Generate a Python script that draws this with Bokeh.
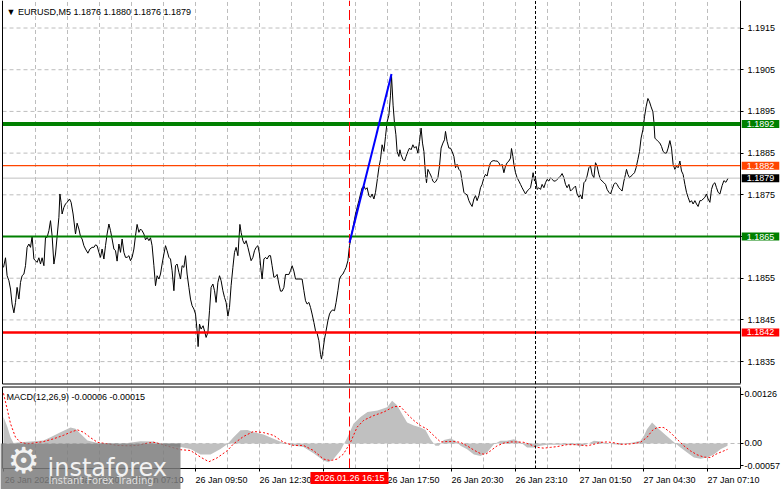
from bokeh.plotting import figure
from bokeh.layouts import column
from bokeh.models import FixedTicker, Label, Range1d, BoxAnnotation, PrintfTickFormatter
from bokeh.embed import file_html
from bokeh.resources import INLINE

# ---------------- data ----------------
# price line: position on the bar axis (5-minute bars, bar 0 = 26 Jan 01:50) and close
bar_pos = [0.0, 1.0, 1.8, 2.7, 3.5, 4.3, 5.2, 6.0, 6.8, 7.7, 8.5, 9.3, 10.2, 11.0, 11.8, 12.7, 13.5, 14.3, 15.2, 16.0,
           16.8, 17.7, 18.5, 19.3, 20.2, 21.0, 21.8, 22.7, 23.5, 24.3, 25.2, 26.0, 26.8, 27.7, 28.2, 28.8, 29.3, 30.2, 31.0, 31.8,
           33.0, 33.8, 34.8, 36.0, 36.8, 37.7, 38.5, 39.3, 40.2, 41.0, 42.2, 43.2, 44.3, 45.2, 46.0, 46.8, 47.7, 48.5, 49.3, 50.2,
           51.0, 51.8, 52.7, 53.5, 54.3, 55.2, 56.0, 56.8, 57.7, 58.5, 59.3, 60.2, 61.0, 61.8, 62.7, 63.5, 64.3, 65.2, 66.0, 66.8,
           67.7, 68.5, 69.3, 70.2, 71.0, 71.8, 72.7, 73.5, 74.3, 75.2, 76.0, 76.8, 77.7, 78.5, 79.3, 80.2, 81.0, 81.8, 82.7, 83.5,
           84.3, 85.2, 86.0, 86.8, 87.7, 88.5, 89.3, 90.2, 91.0, 91.8, 92.7, 93.5, 94.3, 95.2, 96.0, 96.8, 97.3, 98.0, 98.8, 99.8,
           100.7, 101.3, 102.2, 103.0, 103.8, 104.7, 105.5, 106.3, 107.2, 108.0, 108.8, 109.7, 110.5, 111.3, 112.2, 113.0, 113.8, 114.7, 115.5, 116.3,
           117.2, 118.2, 118.8, 119.7, 120.5, 121.3, 122.2, 123.0, 123.8, 124.7, 125.5, 126.3, 127.2, 128.0, 128.8, 129.3, 130.2, 131.0, 131.8, 132.7,
           133.5, 134.3, 135.2, 136.0, 136.8, 137.7, 138.5, 139.3, 140.2, 141.0, 141.8, 142.7, 143.5, 144.3, 145.2, 146.0, 147.7, 149.3, 150.2, 151.0,
           151.8, 152.7, 153.5, 154.3, 155.2, 156.0, 156.8, 157.7, 158.5, 159.0, 159.7, 160.5, 161.3, 162.2, 163.0, 163.8, 164.7, 165.5, 166.3, 167.2,
           168.0, 168.8, 169.7, 170.5, 171.3, 172.2, 173.0,
           176.0, 177.7, 179.3, 180.2, 181.0, 181.8, 182.7, 183.5, 184.3, 185.2, 186.0, 186.8, 187.7, 188.5, 189.3, 190.2, 191.0, 191.8, 192.7, 193.5,
           194.0, 194.8, 195.5, 196.2, 196.8, 197.7, 198.2, 198.8, 199.7, 200.5, 201.3, 202.2, 203.0, 203.8, 204.7, 205.5, 206.3, 207.2, 208.0, 208.8,
           209.5, 210.2, 211.0, 211.5, 212.2, 213.0, 213.8, 214.7, 215.5, 216.3, 217.2, 218.0, 218.8, 219.7, 220.5, 221.0, 221.8, 222.7, 223.5, 224.3,
           225.2, 226.0, 226.8, 227.7, 228.5, 229.3, 230.2, 231.0, 231.8, 232.7, 233.5, 234.3, 235.2, 236.0, 236.8, 237.7, 238.5, 239.3, 240.2, 241.0,
           241.8, 242.7, 243.5, 244.3, 245.2, 246.0, 246.8, 247.7, 248.5, 249.3, 250.2, 251.0, 251.8, 252.7, 253.5, 254.0, 254.7, 255.2, 256.0, 256.8,
           257.7, 258.5, 259.3, 260.2, 261.0, 261.8, 262.7, 263.5, 264.3, 264.8, 265.5, 266.0, 266.8, 267.7, 268.5, 269.3, 270.2, 271.0, 271.8, 272.7,
           273.5, 274.3, 275.2, 276.0, 276.8, 277.7, 278.5, 279.3, 280.2, 281.0, 281.8, 282.7, 283.5, 284.3, 285.2, 286.0, 286.8, 287.7, 288.5, 289.3,
           290.2, 291.0, 291.8, 292.7, 293.5, 294.3, 295.2, 296.0, 296.8, 297.7, 298.5, 299.3, 300.2, 301.0, 301.8, 302.7, 303.5, 304.3, 305.2, 306.0,
           306.8, 307.7, 308.5, 309.3, 310.2, 311.0, 311.5, 312.2, 313.0, 313.8, 314.7, 315.5, 316.3, 317.2, 318.0, 318.8, 319.7, 320.5, 321.3, 322.2,
           323.0, 323.8, 324.7, 325.2, 325.7, 326.5, 327.3, 328.2, 329.0, 329.8, 330.7, 331.5, 332.3, 333.2, 334.0, 334.8, 335.7, 336.5, 337.3, 338.2,
           339.0, 339.8, 340.7, 341.5, 342.3, 343.2, 344.0, 344.8, 345.7, 346.5, 347.3, 348.2, 349.0, 349.8, 350.7, 351.5, 352.3, 353.2, 354.0, 354.8,
           355.7, 356.5, 357.3, 358.2, 359.3, 360.2, 361.2, 362.3]
close = [1.18576, 1.18599, 1.18556, 1.18544, 1.18524, 1.18488, 1.18467, 1.18492, 1.18528, 1.18500, 1.18540, 1.18556, 1.18560, 1.18580, 1.18624, 1.18632, 1.18624, 1.18650, 1.18596, 1.18592,
         1.18588, 1.18599, 1.18584, 1.18599, 1.18580, 1.18648, 1.18648, 1.18664, 1.18688, 1.18652, 1.18584, 1.18608, 1.18650, 1.18696, 1.18752, 1.18732, 1.18704, 1.18720, 1.18728, 1.18732,
         1.18740, 1.18732, 1.18704, 1.18656, 1.18682, 1.18668, 1.18650, 1.18644, 1.18628, 1.18620, 1.18610, 1.18620, 1.18624, 1.18624, 1.18630, 1.18628, 1.18612, 1.18600, 1.18620, 1.18596,
         1.18628, 1.18656, 1.18680, 1.18664, 1.18644, 1.18620, 1.18616, 1.18591, 1.18632, 1.18612, 1.18644, 1.18612, 1.18600, 1.18600, 1.18604, 1.18592, 1.18600, 1.18620, 1.18652, 1.18679,
         1.18660, 1.18668, 1.18664, 1.18656, 1.18642, 1.18648, 1.18640, 1.18647, 1.18628, 1.18580, 1.18532, 1.18556, 1.18548, 1.18560, 1.18584, 1.18608, 1.18628, 1.18616, 1.18600, 1.18596,
         1.18568, 1.18520, 1.18580, 1.18584, 1.18564, 1.18548, 1.18580, 1.18576, 1.18604, 1.18560, 1.18528, 1.18500, 1.18484, 1.18476, 1.18464, 1.18424, 1.18386, 1.18440, 1.18428, 1.18436,
         1.18420, 1.18408, 1.18420, 1.18472, 1.18528, 1.18536, 1.18520, 1.18492, 1.18540, 1.18556, 1.18544, 1.18520, 1.18504, 1.18492, 1.18459, 1.18480, 1.18532, 1.18576, 1.18612, 1.18624,
         1.18604, 1.18679, 1.18660, 1.18640, 1.18632, 1.18640, 1.18624, 1.18608, 1.18592, 1.18600, 1.18616, 1.18624, 1.18628, 1.18608, 1.18568, 1.18548, 1.18596, 1.18600, 1.18596, 1.18604,
         1.18604, 1.18580, 1.18552, 1.18554, 1.18559, 1.18536, 1.18519, 1.18519, 1.18528, 1.18559, 1.18559, 1.18559, 1.18568, 1.18580, 1.18567, 1.18548, 1.18548, 1.18548, 1.18520, 1.18496,
         1.18488, 1.18492, 1.18480, 1.18464, 1.18444, 1.18424, 1.18418, 1.18400, 1.18367, 1.18356, 1.18376, 1.18404, 1.18424, 1.18448, 1.18464, 1.18471, 1.18474, 1.18472, 1.18492, 1.18520,
         1.18548, 1.18556, 1.18560, 1.18568, 1.18576, 1.18592, 1.18628,
         1.18704, 1.18736, 1.18767, 1.18771, 1.18763, 1.18767, 1.18748, 1.18744, 1.18752, 1.18740, 1.18756, 1.18783, 1.18815, 1.18835, 1.18870, 1.18854, 1.18890, 1.18925, 1.18941, 1.18989,
         1.19036, 1.18965, 1.18921, 1.18894, 1.18854, 1.18842, 1.18858, 1.18846, 1.18835, 1.18831, 1.18842, 1.18854, 1.18862, 1.18858, 1.18870, 1.18862, 1.18866, 1.18850, 1.18878, 1.18910,
         1.18874, 1.18854, 1.18799, 1.18779, 1.18811, 1.18803, 1.18795, 1.18783, 1.18779, 1.18783, 1.18791, 1.18819, 1.18862, 1.18874, 1.18882, 1.18902, 1.18878, 1.18862, 1.18862, 1.18854,
         1.18842, 1.18815, 1.18823, 1.18811, 1.18807, 1.18783, 1.18756, 1.18752, 1.18750, 1.18736, 1.18728, 1.18722, 1.18740, 1.18748, 1.18736, 1.18748, 1.18767, 1.18775, 1.18791, 1.18799,
         1.18795, 1.18815, 1.18827, 1.18831, 1.18832, 1.18831, 1.18831, 1.18827, 1.18819, 1.18823, 1.18803, 1.18819, 1.18827, 1.18831, 1.18838, 1.18861, 1.18842, 1.18823, 1.18803, 1.18791,
         1.18783, 1.18775, 1.18767, 1.18759, 1.18752, 1.18759, 1.18763, 1.18767, 1.18787, 1.18803, 1.18783, 1.18791, 1.18763, 1.18767, 1.18763, 1.18775, 1.18767, 1.18779, 1.18787, 1.18783,
         1.18791, 1.18787, 1.18783, 1.18783, 1.18787, 1.18791, 1.18795, 1.18801, 1.18791, 1.18775, 1.18767, 1.18775, 1.18759, 1.18763, 1.18767, 1.18771, 1.18752, 1.18744, 1.18750, 1.18740,
         1.18779, 1.18783, 1.18795, 1.18815, 1.18819, 1.18799, 1.18791, 1.18827, 1.18819, 1.18799, 1.18787, 1.18783, 1.18779, 1.18775, 1.18763, 1.18756, 1.18752, 1.18763, 1.18775, 1.18779,
         1.18775, 1.18767, 1.18763, 1.18759, 1.18783, 1.18799, 1.18811, 1.18799, 1.18791, 1.18795, 1.18799, 1.18803, 1.18815, 1.18835, 1.18854, 1.18886, 1.18906, 1.18937, 1.18961, 1.18981,
         1.18973, 1.18961, 1.18949, 1.18925, 1.18886, 1.18882, 1.18878, 1.18874, 1.18866, 1.18854, 1.18850, 1.18850, 1.18862, 1.18880, 1.18862, 1.18823, 1.18811, 1.18819, 1.18815, 1.18831,
         1.18807, 1.18799, 1.18775, 1.18756, 1.18744, 1.18732, 1.18736, 1.18728, 1.18736, 1.18728, 1.18722, 1.18736, 1.18736, 1.18740, 1.18744, 1.18752, 1.18740, 1.18732, 1.18763, 1.18775,
         1.18779, 1.18767, 1.18756, 1.18752, 1.18772, 1.18784, 1.18780, 1.18790]

# blue trend segment
trend_bars = [173.0, 194.0]
trend_prices = [1.18635, 1.19040]

# horizontal levels
level_prices = [1.1892, 1.1882, 1.1879, 1.1865, 1.1842]
level_labels = ["1.1892", "1.1882", "1.1879", "1.1865", "1.1842"]
level_colors = ["#008000", "#ff4500", "#c0c0c0", "#008000", "#ff0000"]
level_box_colors = ["#008000", "#ff4500", "#000000", "#008000", "#ff0000"]
level_widths = [4, 1.3, 1, 2, 2.5]

# MACD(12,26,9) histogram and signal
hist_pos = [0, 2, 3.5, 5, 8.5, 13.5, 20, 23.5, 28.5, 33.5, 36, 38.5, 42, 47, 53.5, 62, 68.5, 75, 82, 88.5,
            93.5, 98.5, 103.5, 108.5, 112, 115, 118.5, 122, 125, 130, 135, 140, 145, 150, 155, 160, 162.5, 165, 168.5, 172,
            175, 178.5, 182, 187, 191.8, 194.3, 196.8, 199.3, 201.8, 205.2, 208.5, 211, 213.5, 216, 217.7, 220.2, 223.5, 226, 228.5, 231.8,
            235.2, 238.5, 241.8, 245.2, 248.5, 251.8, 255.2, 258.5, 261.8, 265.2, 268.5, 271.8, 278.5, 285.2, 288.5, 291.8, 295.2, 298.5, 301.8, 305.2,
            308.5, 311.8, 315.2, 318.5, 320.2, 321.8, 324.3, 326.8, 330.2, 333.5, 336, 338.5, 341.8, 345.2, 348.5, 351.8, 355.2, 358.5, 362]
hist_val = [0.00068, 0.00042, 0.00016, 0.00001, 0.00003, 0.00005, 0.00008, 0.00016, 0.00029, 0.00041, 0.00038, 0.00025, 0.00008, 0.00001, -0.00001, 0.00001, 0.00006, 0.00005, -0.00005, -0.00009,
            -0.00014, -0.00028, -0.00028, -0.00014, -0.00001, 0.00016, 0.00034, 0.00035, 0.00029, 0.00023, 0.00012, 0.00001, -0.00005, -0.00009, -0.00025, -0.00044, -0.00048, -0.00040, -0.00018, 0.00016,
            0.00051, 0.00068, 0.00081, 0.00085, 0.00093, 0.00110, 0.00098, 0.00076, 0.00054, 0.00046, 0.00041, 0.00035, 0.00011, -0.00006, -0.00006, 0.00009, 0.00013, 0.00007, -0.00006, -0.00015,
            -0.00028, -0.00032, -0.00023, -0.00002, 0.00007, 0.00007, 0.00011, 0.00003, -0.00010, -0.00010, -0.00006, -0.00003, -0.00003, -0.00003, -0.00007, -0.00002, 0.00007, 0.00005, 0.00000, -0.00002,
            -0.00003, 0.00000, 0.00003, 0.00007, 0.00020, 0.00037, 0.00054, 0.00041, 0.00026, 0.00011, 0.00000, -0.00010, -0.00023, -0.00036, -0.00039, -0.00036, -0.00028, -0.00015, -0.00006]
sig_pos = [0, 2, 3.5, 6, 8.5, 12, 15, 20, 25, 30, 33.5, 37, 40, 43.5, 47, 52, 57, 62, 67, 72,
           75, 78.5, 83.5, 88.5, 93.5, 98.5, 102.7, 106.8, 112, 115, 120, 125, 130, 135, 140, 145, 150, 155, 160, 163.5,
           166.8, 170, 173.5, 176.8, 180.2, 185.2, 190.2, 195.2, 198.5, 201.8, 205.2, 208.5, 211.8, 215.2, 218.5, 221.8, 225.2, 228.5, 231.8, 235.2,
           238.5, 241, 243.5, 246.8, 250.2, 253.5, 256.8, 260.2, 263.5, 266.8, 270.2, 273.5, 276.8, 281.8, 286.8, 291.8, 295.2, 298.5, 301.8, 305.2,
           308.5, 311.8, 315.2, 318.5, 321.8, 324.3, 326.8, 330.2, 333.5, 336.8, 340.2, 343.5, 346.8, 350.2, 353.5, 356.8, 360.2, 362]
sig_val = [0.00129, 0.00085, 0.00051, 0.00016, 0.00003, -0.00001, 0.00001, 0.00005, 0.00012, 0.00021, 0.00029, 0.00035, 0.00029, 0.00015, 0.00003, -0.00001, -0.00005, -0.00006, -0.00005, 0.00001,
           0.00003, -0.00001, -0.00009, -0.00016, -0.00018, -0.00035, -0.00047, -0.00037, -0.00018, -0.00001, 0.00018, 0.00031, 0.00028, 0.00021, 0.00003, -0.00005, -0.00005, -0.00018, -0.00040, -0.00044,
           -0.00040, -0.00027, 0.00003, 0.00042, 0.00060, 0.00072, 0.00081, 0.00095, 0.00095, 0.00076, 0.00059, 0.00046, 0.00037, 0.00020, 0.00004, 0.00005, 0.00005, 0.00003, -0.00006, -0.00017,
           -0.00026, -0.00028, -0.00019, -0.00006, 0.00001, 0.00004, 0.00004, 0.00003, -0.00003, -0.00010, -0.00012, -0.00010, -0.00008, -0.00003, -0.00003, -0.00006, -0.00002, 0.00003, 0.00004, 0.00002,
           -0.00002, -0.00002, 0.00000, 0.00003, 0.00016, 0.00033, 0.00041, 0.00041, 0.00028, 0.00011, -0.00006, -0.00019, -0.00029, -0.00035, -0.00036, -0.00026, -0.00019, -0.00015]

# axes
price_ticks = [1.1835, 1.1845, 1.1855, 1.1865, 1.1875, 1.1885, 1.1895, 1.1905, 1.1915]
macd_ticks = [0.00126, 0.0, -0.00057]
macd_tick_labels = ["0.00126", "0.00", "-0.00057"]
time_ticks = [0, 32, 64, 96, 128, 160, 192, 224, 256, 288, 320, 352]
time_labels = ["26 Jan 2026", "26 Jan 04:30", "26 Jan 07:10", "26 Jan 09:50", "26 Jan 12:30", "",
               "26 Jan 17:50", "26 Jan 20:30", "26 Jan 23:10", "27 Jan 01:50", "27 Jan 04:30", "27 Jan 07:10"]
grid_bars = [16, 32, 48, 64, 80, 96, 112, 128, 144, 160, 176, 192, 208, 224, 240, 256, 272, 288, 304, 320, 336, 352]
signal_bar = 173
signal_text = "2026.01.26 16:15"
day_separator_bar = 266
title_text = "\u25bc EURUSD,M5  1.1876 1.1880 1.1876 1.1879"
macd_text = "MACD(12,26,9) -0.00006 -0.00015"

# ---------------- geometry / styling ----------------
FONT = "Liberation Sans"
FS = "9px"
GRID = "#bdbdbd"
FW = 781                      # frames cover the whole width (axes drawn at fixed locations)
H1 = 385
H2 = 104
X0, X1 = -1.5, 389.0          # visible bar range (incl. the label column right of the axis)
LEFT_BAR, AXIS_BAR = -0.5, 368.5
BOX_CENTER_BAR = 378.5        # centre of the level value boxes, right of the axis
P_LO, P_HI = 1.182927, 1.192160
P_BOTTOM = 1.182963
M_LO, M_HI = -0.001183, 0.001491
M_BOTTOM, M_TOP = -0.000643, 0.001452
LABEL_HALF = 13               # half a time label, in bars (labels start at their tick)


def style_axis(ax, standoff):
    ax.axis_line_color = "black"
    ax.major_tick_line_color = "black"
    ax.minor_tick_line_color = "black"
    ax.major_tick_out = 3
    ax.major_tick_in = 0
    ax.minor_tick_out = 0
    ax.minor_tick_in = 0
    ax.major_label_text_font = FONT
    ax.major_label_text_font_size = FS
    ax.major_label_text_color = "black"
    ax.major_label_standoff = standoff


xr = Range1d(X0, X1)

# ---------------- main price panel ----------------
p = figure(frame_width=FW, frame_height=H1, x_range=xr, y_range=Range1d(P_LO, P_HI),
           output_backend="svg", toolbar_location=None, x_axis_location=None,
           y_axis_location="right", min_border=0)
p.background_fill_color = "white"
p.border_fill_color = "white"
p.outline_line_color = None
p.xgrid.grid_line_color = None
p.ygrid.grid_line_color = None

ya = p.yaxis[0]
style_axis(ya, 4)
ya.ticker = FixedTicker(ticks=price_ticks)
ya.formatter = PrintfTickFormatter(format="%.4f")
ya.fixed_location = AXIS_BAR
ya.bounds = (P_BOTTOM, P_HI)

ng, nt = len(grid_bars), len(price_ticks)
p.segment(x0=grid_bars, y0=[P_BOTTOM] * ng, x1=grid_bars, y1=[P_HI] * ng,
          line_color=GRID, line_dash="4 3", line_width=1)
p.segment(x0=[LEFT_BAR] * nt, y0=price_ticks, x1=[AXIS_BAR] * nt, y1=price_ticks,
          line_color=GRID, line_dash="4 3", line_width=1)

p.line(x=bar_pos, y=close, line_color="black", line_width=1)

nl = len(level_prices)
p.segment(x0=[LEFT_BAR] * nl, y0=level_prices, x1=[AXIS_BAR] * nl, y1=level_prices,
          line_color=level_colors, line_width=level_widths)
p.segment(x0=[signal_bar], y0=[P_BOTTOM], x1=[signal_bar], y1=[P_HI],
          line_color="#ff0000", line_dash="10 4", line_width=1)
p.segment(x0=[day_separator_bar], y0=[P_BOTTOM], x1=[day_separator_bar], y1=[P_HI],
          line_color="black", line_dash="3 2", line_width=1)
p.line(x=trend_bars, y=trend_prices, line_color="#0000ff", line_width=2)

# panel border (left and bottom)
p.segment(x0=[LEFT_BAR, LEFT_BAR], y0=[P_BOTTOM, P_BOTTOM], x1=[LEFT_BAR, AXIS_BAR],
          y1=[P_HI, P_BOTTOM], line_color="black", line_width=1)

for lvl, txt, col in zip(level_prices, level_labels, level_box_colors):
    p.add_layout(Label(x=BOX_CENTER_BAR, y=lvl, text=txt, text_font=FONT,
                       text_font_size=FS, text_color="white", text_align="center",
                       text_baseline="middle", background_fill_color=col,
                       padding=dict(left=5, right=5, top=1, bottom=1)))

p.add_layout(Label(x=6, y=H1 - 11, x_units="screen", y_units="screen", text=title_text,
                   text_font=FONT, text_font_size=FS, text_color="black",
                   text_baseline="middle"))

# ---------------- MACD panel ----------------
m = figure(frame_width=FW, frame_height=H2, x_range=xr, y_range=Range1d(M_LO, M_HI),
           output_backend="svg", toolbar_location=None, y_axis_location="right",
           x_axis_location="below", min_border=0)
m.background_fill_color = "white"
m.border_fill_color = "white"
m.outline_line_color = None
m.xgrid.grid_line_color = None
m.ygrid.grid_line_color = None

my = m.yaxis[0]
style_axis(my, 1)
my.ticker = FixedTicker(ticks=macd_ticks)
my.major_label_overrides = {t: s for t, s in zip(macd_ticks, macd_tick_labels)}
my.fixed_location = AXIS_BAR
my.bounds = (M_BOTTOM, M_TOP)

mx = m.xaxis[0]
style_axis(mx, 4)
label_pos = [t + LABEL_HALF for t in time_ticks]
mx.ticker = FixedTicker(ticks=label_pos, minor_ticks=time_ticks)
mx.major_label_overrides = {t: s for t, s in zip(label_pos, time_labels)}
mx.major_tick_out = 0
mx.minor_tick_out = 3
mx.fixed_location = M_BOTTOM
mx.bounds = (LEFT_BAR, AXIS_BAR)

m.segment(x0=grid_bars, y0=[M_BOTTOM] * ng, x1=grid_bars, y1=[M_TOP] * ng,
          line_color=GRID, line_dash="4 3", line_width=1)
m.segment(x0=[LEFT_BAR], y0=[0.0], x1=[AXIS_BAR], y1=[0.0],
          line_color=GRID, line_dash="4 3", line_width=1)

m.varea(x=hist_pos, y1=0, y2=hist_val, fill_color="#c0c0c0")
m.line(x=sig_pos, y=sig_val, line_color="#ff0000", line_dash="2 2", line_width=1)

m.segment(x0=[signal_bar], y0=[M_BOTTOM], x1=[signal_bar], y1=[M_TOP],
          line_color="#ff0000", line_dash="10 4", line_width=1)
m.segment(x0=[day_separator_bar], y0=[M_BOTTOM], x1=[day_separator_bar], y1=[M_TOP],
          line_color="black", line_dash="3 2", line_width=1)

# panel border (left and top)
m.segment(x0=[LEFT_BAR, LEFT_BAR], y0=[M_BOTTOM, M_TOP], x1=[LEFT_BAR, AXIS_BAR],
          y1=[M_TOP, M_TOP], line_color="black", line_width=1)

m.add_layout(Label(x=6, y=93, x_units="screen", y_units="screen", text=macd_text,
                   text_font=FONT, text_font_size=FS, text_color="black",
                   text_baseline="middle"))

m.add_layout(Label(x=signal_bar, y=11.5, y_units="screen", text=signal_text, text_font=FONT,
                   text_font_size=FS, text_color="white", text_align="center",
                   text_baseline="middle", background_fill_color="#ff0000",
                   padding=dict(left=4, right=4, top=1, bottom=1)))

# watermark
m.add_layout(BoxAnnotation(left=0, right=180, bottom=0, top=46, left_units="screen",
                           right_units="screen", bottom_units="screen", top_units="screen",
                           fill_color="#7d7d7d", fill_alpha=0.85, line_color=None,
                           level="overlay"))
m.add_layout(Label(x=7, y=29, x_units="screen", y_units="screen", text="\u2699",
                   text_font="DejaVu Sans", text_font_size="36px", text_color="#f2f2f2",
                   text_baseline="middle", level="overlay"))
m.add_layout(Label(x=47, y=22, x_units="screen", y_units="screen", text="instaforex",
                   text_font="DejaVu Sans", text_font_size="24px", text_color="#f2f2f2",
                   text_baseline="alphabetic", level="overlay"))
m.add_layout(Label(x=48, y=9, x_units="screen", y_units="screen", text="Instant Forex Trading",
                   text_font="DejaVu Sans", text_font_size="10px", text_color="#dedede",
                   text_baseline="middle", level="overlay"))

layout = column(p, m, spacing=0)
open("out.html", "w").write(file_html(layout, INLINE))
